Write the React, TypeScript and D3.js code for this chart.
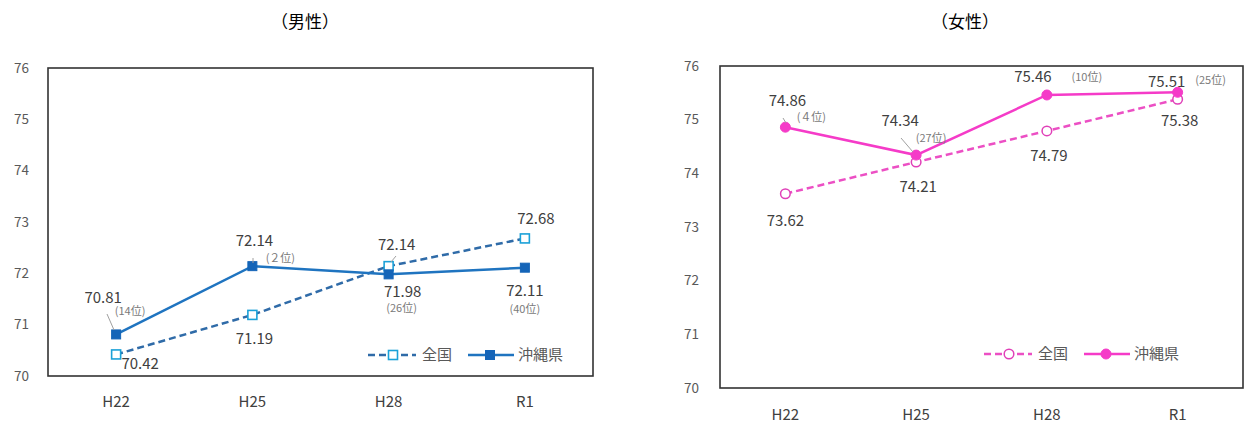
import React from "react";
import * as d3 from "d3";

const categories = ["H22", "H25", "H28", "R1"];
const yTicks = [70, 71, 72, 73, 74, 75, 76];

const maleNational = [70.42, 71.19, 72.14, 72.68];
const maleOkinawa = [70.81, 72.14, 71.98, 72.11];
const maleRank = ["(14位)", "(２位)", "(26位)", "(40位)"];

const femaleNational = [73.62, 74.21, 74.79, 75.38];
const femaleOkinawa = [74.86, 74.34, 75.46, 75.51];
const femaleRank = ["(４位)", "(27位)", "(10位)", "(25位)"];

const legendNames = ["全国", "沖縄県"];

const FONT = "'Noto Sans CJK JP', 'Noto Sans', sans-serif";

type Off = { dx: number; dy: number };
type LabelCfg = {
  nat: Off[];
  oki: Off[];
  rank: Off[];
  leaders: ({ x1: number; y1: number; x2: number; y2: number } | null)[];
};

type PanelProps = {
  title: string;
  titleX: number;
  left: number;
  right: number;
  top: number;
  bottom: number;
  tickRight: number;
  catY: number;
  national: number[];
  okinawa: number[];
  rank: string[];
  marker: "square" | "circle";
  natLine: string;
  natMarker: string;
  okiLine: string;
  okiMarker: string;
  labels: LabelCfg;
  legendX: number;
  legendY: number;
};

function Marker({ kind, x, y, filled, color }: { kind: string; x: number; y: number; filled: boolean; color: string }) {
  if (kind === "square") {
    const s = 9;
    return (
      <rect x={x - s / 2} y={y - s / 2} width={s} height={s} fill={filled ? color : "#fff"} stroke={color} strokeWidth={filled ? 1 : 1.6} />
    );
  }
  return <circle cx={x} cy={y} r={filled ? 5 : 4.8} fill={filled ? color : "#fff"} stroke={color} strokeWidth={filled ? 1 : 1.5} />;
}

function Panel(p: PanelProps) {
  const x = d3.scalePoint<string>().domain(categories).range([p.left, p.right]).padding(0.5);
  const y = d3.scaleLinear().domain([70, 76]).range([p.bottom, p.top]);
  const line = d3
    .line<number>()
    .x((_, i) => x(categories[i]) as number)
    .y((d) => y(d));

  return (
    <g>
      <text x={p.titleX} y={28} textAnchor="middle" fontSize={17} fill="#000">
        {p.title}
      </text>
      {yTicks.map((t) => (
        <text key={t} x={p.tickRight} y={y(t)} dy="0.35em" textAnchor="end" fontSize={13.5} fill="#595959">
          {t}
        </text>
      ))}
      {categories.map((c) => (
        <text key={c} x={x(c)} y={p.catY} dy="0.35em" textAnchor="middle" fontSize={15} fill="#404040">
          {c}
        </text>
      ))}
      <rect x={p.left} y={p.top} width={p.right - p.left} height={p.bottom - p.top} fill="none" stroke="#333" strokeWidth={1.6} />

      <path d={line(p.national) || ""} fill="none" stroke={p.natLine} strokeWidth={2.5} strokeDasharray="7,4" />
      <path d={line(p.okinawa) || ""} fill="none" stroke={p.okiLine} strokeWidth={2.5} />
      {p.national.map((v, i) => (
        <Marker key={"n" + i} kind={p.marker} x={x(categories[i]) as number} y={y(v)} filled={false} color={p.natMarker} />
      ))}
      {p.okinawa.map((v, i) => (
        <Marker key={"o" + i} kind={p.marker} x={x(categories[i]) as number} y={y(v)} filled={true} color={p.okiMarker} />
      ))}

      {p.labels.leaders.map((l, i) =>
        l ? <line key={"l" + i} x1={l.x1} y1={l.y1} x2={l.x2} y2={l.y2} stroke="#a0a0a0" strokeWidth={1} /> : null
      )}

      {p.national.map((v, i) => (
        <text
          key={"nl" + i}
          x={(x(categories[i]) as number) + p.labels.nat[i].dx}
          y={y(v) + p.labels.nat[i].dy}
          dy="0.35em"
          textAnchor="middle"
          fontSize={15}
          fill="#404040"
        >
          {v.toFixed(2)}
        </text>
      ))}
      {p.okinawa.map((v, i) => (
        <text
          key={"ol" + i}
          x={(x(categories[i]) as number) + p.labels.oki[i].dx}
          y={y(v) + p.labels.oki[i].dy}
          dy="0.35em"
          textAnchor="middle"
          fontSize={15}
          fill="#404040"
        >
          {v.toFixed(2)}
        </text>
      ))}
      {p.okinawa.map((v, i) => (
        <text
          key={"rl" + i}
          x={(x(categories[i]) as number) + p.labels.rank[i].dx}
          y={y(v) + p.labels.rank[i].dy}
          dy="0.35em"
          textAnchor="middle"
          fontSize={11}
          fill="#7a7a7a"
        >
          {p.rank[i]}
        </text>
      ))}

      <g transform={`translate(${p.legendX},${p.legendY})`}>
        <line x1={0} y1={0} x2={48} y2={0} stroke={p.natLine} strokeWidth={2.5} strokeDasharray="7,4" />
        <Marker kind={p.marker} x={25} y={0} filled={false} color={p.natMarker} />
        <text x={54} y={0} dy="0.35em" fontSize={15} fill="#595959">
          {legendNames[0]}
        </text>
        <line x1={100} y1={0} x2={146} y2={0} stroke={p.okiLine} strokeWidth={2.5} />
        <Marker kind={p.marker} x={122} y={0} filled={true} color={p.okiMarker} />
        <text x={150} y={0} dy="0.35em" fontSize={15} fill="#595959">
          {legendNames[1]}
        </text>
      </g>
    </g>
  );
}

const maleLabels: LabelCfg = {
  nat: [
    { dx: 24, dy: 9 },
    { dx: 2, dy: 24 },
    { dx: 8, dy: -21 },
    { dx: 11, dy: -20 },
  ],
  oki: [
    { dx: -13, dy: -37 },
    { dx: 2, dy: -25 },
    { dx: 14, dy: 17 },
    { dx: 0, dy: 23 },
  ],
  rank: [
    { dx: 14, dy: -23 },
    { dx: 28, dy: -8 },
    { dx: 13, dy: 34 },
    { dx: 0, dy: 41 },
  ],
  leaders: [
    { x1: 107, y1: 314, x2: 114, y2: 330 },
    { x1: 253, y1: 258, x2: 253, y2: 263 },
    { x1: 396, y1: 256, x2: 391, y2: 262 },
    null,
  ],
};

const femaleLabels: LabelCfg = {
  nat: [
    { dx: 0, dy: 27 },
    { dx: 2, dy: 25 },
    { dx: 2, dy: 25 },
    { dx: 2, dy: 21 },
  ],
  oki: [
    { dx: 2, dy: -26 },
    { dx: -16, dy: -34 },
    { dx: -14, dy: -18 },
    { dx: -11, dy: -11 },
  ],
  rank: [
    { dx: 26, dy: -10 },
    { dx: 15, dy: -17 },
    { dx: 40, dy: -18 },
    { dx: 33, dy: -12 },
  ],
  leaders: [
    { x1: 783, y1: 118, x2: 786, y2: 123 },
    { x1: 901, y1: 138, x2: 913, y2: 152 },
    null,
    null,
  ],
};

export default function App() {
  return (
    <svg
      width={1245}
      height={424}
      style={{ position: "absolute", left: 0, top: 0, background: "#fff" }}
      fontFamily={FONT}
    >
      <rect x={0} y={0} width={1245} height={424} fill="#fff" />
      <Panel
        title="（男性）"
        titleX={305}
        left={48}
        right={593}
        top={68}
        bottom={376}
        tickRight={29}
        catY={402}
        national={maleNational}
        okinawa={maleOkinawa}
        rank={maleRank}
        marker="square"
        natLine="#2F6BA8"
        natMarker="#1BA1D8"
        okiLine="#1F74C0"
        okiMarker="#1565B8"
        labels={maleLabels}
        legendX={368}
        legendY={355}
      />
      <Panel
        title="（女性）"
        titleX={965}
        left={720}
        right={1243}
        top={66}
        bottom={388}
        tickRight={699}
        catY={415}
        national={femaleNational}
        okinawa={femaleOkinawa}
        rank={femaleRank}
        marker="circle"
        natLine="#EC4FC4"
        natMarker="#E040B8"
        okiLine="#F53BC8"
        okiMarker="#F53BC8"
        labels={femaleLabels}
        legendX={984}
        legendY={354}
      />
    </svg>
  );
}
